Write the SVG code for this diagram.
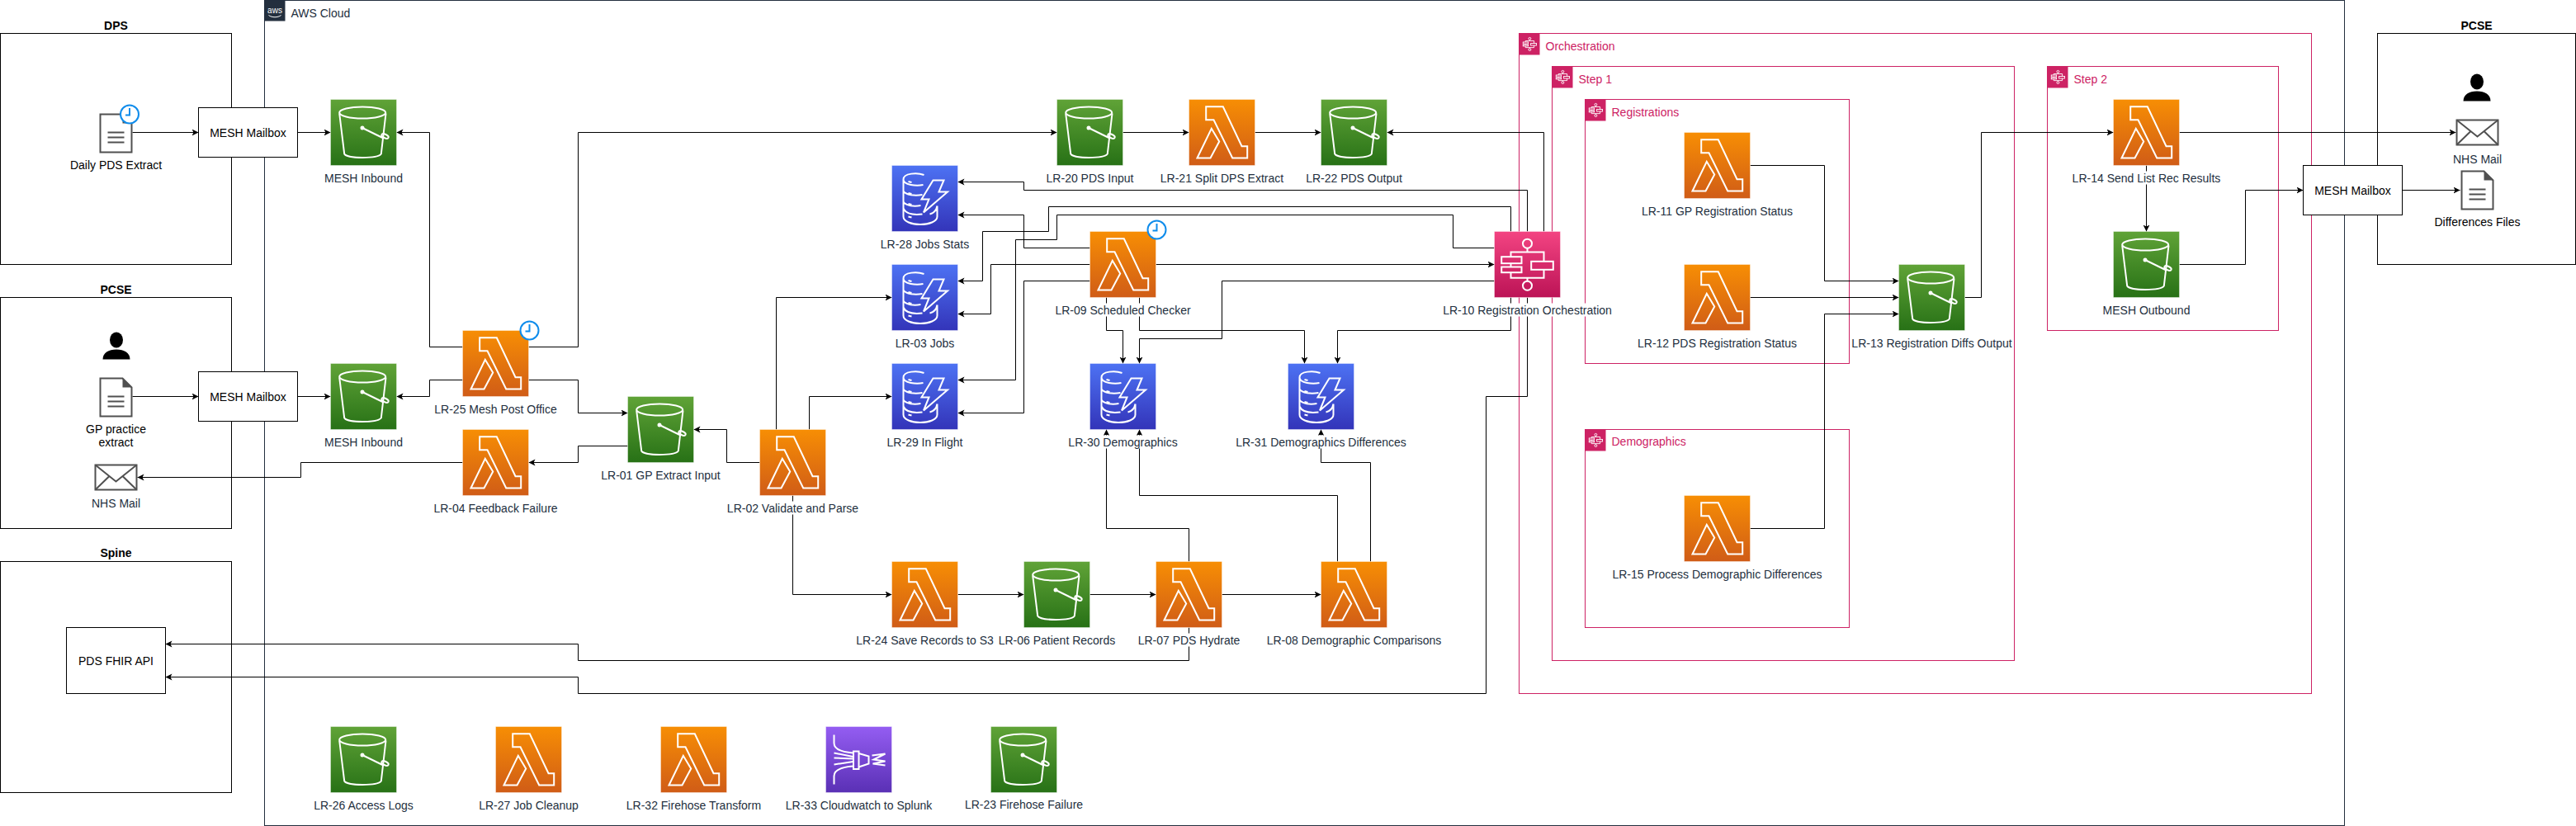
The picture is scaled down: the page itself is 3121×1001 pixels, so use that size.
<svg xmlns="http://www.w3.org/2000/svg" xmlns:xlink="http://www.w3.org/1999/xlink" width="3121" height="1001" viewBox="0 0 3121 1001">
<style>
text{font-family:"Liberation Sans",Arial,sans-serif;font-size:14px;fill:#000;text-anchor:middle}
.a{fill:#232F3E}
.b{font-weight:bold}
.g{fill:#CD2264;text-anchor:start}
.box{fill:none;stroke:#000;stroke-width:1}
.wbox{fill:#fff;stroke:#000;stroke-width:1}
.grp{fill:none;stroke:#CD2264;stroke-width:1}
.c{fill:none;stroke:#000;stroke-width:1;marker-end:url(#ah)}
.m{fill:#fff;stroke:none}
.w{fill:none;stroke:#fff;stroke-width:2}
.edge{stroke:#fff;stroke-opacity:.4;stroke-width:1}
.ink{fill:none;stroke:#505050;stroke-width:2}
.clk{fill:#fff;stroke:#0F8CEB;stroke-width:2}
.hand{fill:none;stroke:#0F8CEB;stroke-width:2}
</style>
<defs>
<marker id="ah" markerUnits="userSpaceOnUse" markerWidth="9" markerHeight="9" refX="8" refY="4" orient="auto"><path d="M8,4 L0,0 L2,4 L0,8 Z" fill="#000"/></marker>
<linearGradient id="gl" x1="0" y1="0" x2="0" y2="1"><stop offset="0" stop-color="#F78E04"/><stop offset="1" stop-color="#D05C17"/></linearGradient>
<linearGradient id="gs" x1="0" y1="0" x2="0" y2="1"><stop offset="0" stop-color="#60A337"/><stop offset="1" stop-color="#277116"/></linearGradient>
<linearGradient id="gd" x1="0" y1="0" x2="0" y2="1"><stop offset="0" stop-color="#4D72F3"/><stop offset="1" stop-color="#3334B9"/></linearGradient>
<linearGradient id="gf" x1="0" y1="0" x2="0" y2="1"><stop offset="0" stop-color="#F34482"/><stop offset="1" stop-color="#BC1356"/></linearGradient>
<linearGradient id="gk" x1="0" y1="0" x2="0" y2="1"><stop offset="0" stop-color="#945DF2"/><stop offset="1" stop-color="#5A30B5"/></linearGradient>
<g id="lambda"><rect width="80" height="80" fill="url(#gl)" class="edge"/><path class="w" d="M20.7,8.7H41.3L64,56.7H70.7V71H52.7L30,24.7H20.7Z M10,71L27.3,35.3L36.7,51L26,71Z"/></g>
<g id="s3"><rect width="80" height="80" fill="url(#gs)" class="edge"/><ellipse class="w" cx="38.7" cy="16" rx="28" ry="7"/><path class="w" d="M10.7,17L16.7,66C20,72 57,72 61.3,66L67,17"/><circle cx="38.5" cy="34.5" r="2.5" fill="#fff"/><path class="w" d="M38.5,34.5L63,46.5"/><ellipse class="w" cx="66" cy="44.5" rx="4.5" ry="2.2" transform="rotate(25 66 44.5)"/></g>
<g id="ddb"><rect width="80" height="80" fill="url(#gd)" class="edge"/><path class="w" d="M39,11.5C31,8.5 14,9 14,17C14,24 30,25 38,23.5M14,17V62C14,68 24,71.5 34.5,71.5S55,68 55,62V49M14,31C17,36 28,37 37,35.5M14,44C17,49 27,50 35,48.5M14,52C17,59 28,60 37,59M46,59C50,58 54,55 55,49M20,19.5L24,20.5M20,33.5L24,34.5M20,46.5L24,47.5M20,62L24,63"/><path class="w" d="M50,18H63L57,32H67.5L38.5,57L45,41H36Z"/></g>
<g id="sfg"><circle cx="40" cy="14.7" r="5.5"/><path d="M40,20V25M20,30.7V25H60V36.3M20,38.7V43M20,49.7V56.3H60V46.3M40,56.3V60.2"/><rect x="8.7" y="30.7" width="24.3" height="8"/><rect x="8.7" y="43" width="24.3" height="6.7"/><rect x="44.7" y="36.3" width="26.6" height="10"/><circle cx="40" cy="65.7" r="5.5"/></g>
<g id="sf"><rect width="80" height="80" fill="url(#gf)" class="edge"/><use xlink:href="#sfg" href="#sfg" class="w"/></g>
<g id="fh"><rect width="80" height="80" fill="url(#gk)" class="edge"/><path class="w" d="M10,10V20C10,28 20,31 33,32M10,70V60C10,52 20,49 33,48M10,32L33,36.5M10,38L33,39M10,46L33,42.5M40,32.5L52,36V45L40,49M56,35L72,33L58,40L72,42L57,45L72,47"/><rect class="w" x="33.5" y="30" width="6.5" height="21.5"/></g>
<g id="grpi"><rect width="25" height="26" fill="#CD2264"/><use xlink:href="#sfg" href="#sfg" transform="translate(2.5,2.5) scale(.26)" style="fill:none;stroke:#fff;stroke-width:3.5"/></g>
<g id="doc"><path d="M1,1H28L39,12V47H1Z" fill="#fff" class="ink"/><path d="M28,1L39,12H28Z" fill="#505050"/><path class="ink" d="M10,23H30M10,29H30M10,35H30"/></g>
<g id="mail"><rect x="1" y="1" width="50" height="30" fill="#fff" class="ink"/><path class="ink" d="M1,1L26,21L51,1M1,31L18,14.5M51,31L34,14.5"/></g>
<g id="person"><ellipse cx="16.5" cy="9.5" rx="8" ry="9.5" fill="#000"/><path d="M0,33C0,25 7,21 16.5,21S33,25 33,33Z" fill="#000"/></g>
<g id="clock"><circle r="11" class="clk"/><path class="hand" d="M0,-7.5V1H-5"/></g>
</defs>
<g transform="translate(.5,.5)">
<g id="aws-cloud"><rect x="320" y="0" width="2520" height="1000" class="box" style="stroke:#232F3E"/><rect x="320" y="0" width="25" height="25" fill="#232F3E"/><text x="332.5" y="15" style="fill:#fff;font-size:10px">aws</text><path d="M325,18C329,21 336,21 340,18" fill="none" stroke="#fff"/><text x="352" y="20" class="a" style="text-anchor:start">AWS Cloud</text></g>
<g id="dps"><rect y="40" width="280" height="280" class="box"/><text x="140" y="35" class="b">DPS</text></g>
<g id="pcse-left"><rect y="360" width="280" height="280" class="box"/><text x="140" y="355" class="b">PCSE</text></g>
<g id="spine"><rect y="680" width="280" height="280" class="box"/><text x="140" y="674" class="b">Spine</text></g>
<g id="pcse-right"><rect x="2880" y="40" width="240" height="280" class="box"/><text x="3000" y="35" class="b">PCSE</text></g>
<g id="orchestration"><rect x="1840" y="40" width="960" height="800" class="grp"/><use href="#grpi" x="1840" y="40"/><text x="1872" y="60" class="g">Orchestration</text></g>
<g id="step-1"><rect x="1880" y="80" width="560" height="720" class="grp"/><use href="#grpi" x="1880" y="80"/><text x="1912" y="100" class="g">Step 1</text></g>
<g id="registrations"><rect x="1920" y="120" width="320" height="320" class="grp"/><use href="#grpi" x="1920" y="120"/><text x="1952" y="140" class="g">Registrations</text></g>
<g id="demographics"><rect x="1920" y="520" width="320" height="240" class="grp"/><use href="#grpi" x="1920" y="520"/><text x="1952" y="539" class="g">Demographics</text></g>
<g id="step-2"><rect x="2480" y="80" width="280" height="320" class="grp"/><use href="#grpi" x="2480" y="80"/><text x="2512" y="100" class="g">Step 2</text></g>
<g id="connectors">
<path class="c" d="M160,160H240"/>
<path class="c" d="M360,160H400"/>
<path class="c" d="M560,420H520V160H480"/>
<path class="c" d="M640,420H700V160H1280"/>
<path class="c" d="M560,460H520V480H480"/>
<path class="c" d="M640,460H700V500H760"/>
<path class="c" d="M160,480H240"/>
<path class="c" d="M360,480H400"/>
<path class="c" d="M760,540H700V560H640"/>
<path class="c" d="M560,560H364V578H166"/>
<path class="c" d="M920,560H880V520H840"/>
<path class="c" d="M940,520V360H1080"/>
<path class="c" d="M980,520V480H1080"/>
<path class="c" d="M960,600V720H1080"/>
<path class="c" d="M1160,720H1240"/>
<path class="c" d="M1320,720H1400"/>
<path class="c" d="M1480,720H1600"/>
<path class="c" d="M1440,680V640H1340V520"/>
<path class="c" d="M1620,680V600H1380V520"/>
<path class="c" d="M1660,680V560H1600V520"/>
<path class="c" d="M1440,760V800H700V780H200"/>
<path class="c" d="M1850,360V480H1800V840H700V820H200"/>
<path class="c" d="M1850,280V230H1240V220H1160"/>
<path class="c" d="M1320,300H1240V260H1160"/>
<path class="c" d="M1830,280V250H1270V280H1190V340H1160"/>
<path class="c" d="M1810,300H1760V260H1280V290H1230V460H1160"/>
<path class="c" d="M1320,320H1200V380H1160"/>
<path class="c" d="M1320,340H1240V500H1160"/>
<path class="c" d="M1400,320H1810"/>
<path class="c" d="M1340,360V400H1360V440"/>
<path class="c" d="M1380,360V400H1580V440"/>
<path class="c" d="M1810,340H1480V410H1380V440"/>
<path class="c" d="M1830,360V400H1620V440"/>
<path class="c" d="M1870,280V160H1680"/>
<path class="c" d="M1360,160H1440"/>
<path class="c" d="M1520,160H1600"/>
<path class="c" d="M2120,200H2210V340H2300"/>
<path class="c" d="M2120,360H2300"/>
<path class="c" d="M2120,640H2210V380H2300"/>
<path class="c" d="M2380,360H2400V160H2560"/>
<path class="c" d="M2640,160H2975"/>
<path class="c" d="M2600,200V280"/>
<path class="c" d="M2640,320H2720V230H2790"/>
<path class="c" d="M2910,230H2980"/>
</g>
<g id="daily-pds-extract"><use href="#doc" x="120" y="137"/><use href="#clock" x="156.5" y="138"/><text x="140" y="204">Daily PDS Extract</text></g>
<g id="mesh-mailbox-dps"><rect x="240" y="130" width="120" height="60" class="wbox"/><text x="300" y="165">MESH Mailbox</text></g>
<g id="mesh-inbound-dps"><use href="#s3" x="400" y="120"/><text x="440" y="220" class="a">MESH Inbound</text></g>
<g id="pcse-user"><use href="#person" x="124" y="402"/></g>
<g id="gp-practice-extract"><use href="#doc" x="120" y="457"/><text x="140" y="524">GP practice</text><text x="140" y="540">extract</text></g>
<g id="nhs-mail-left"><use href="#mail" x="114" y="562"/><text x="140" y="614" class="a">NHS Mail</text></g>
<g id="mesh-mailbox-pcse"><rect x="240" y="450" width="120" height="60" class="wbox"/><text x="300" y="485">MESH Mailbox</text></g>
<g id="mesh-inbound-pcse"><use href="#s3" x="400" y="440"/><text x="440" y="540" class="a">MESH Inbound</text></g>
<g id="pds-fhir-api"><rect x="80" y="760" width="120" height="80" class="wbox"/><text x="140" y="805">PDS FHIR API</text></g>
<g id="lr-25"><use href="#lambda" x="560" y="400"/><use href="#clock" x="641" y="400"/><text x="600" y="500" class="a">LR-25 Mesh Post Office</text></g>
<g id="lr-04"><use href="#lambda" x="560" y="520"/><text x="600" y="620" class="a">LR-04 Feedback Failure</text></g>
<g id="lr-01"><use href="#s3" x="760" y="480"/><text x="800" y="580" class="a">LR-01 GP Extract Input</text></g>
<g id="lr-02"><use href="#lambda" x="920" y="520"/><rect class="m" x="881" y="607" width="159" height="16"/><text x="960" y="620" class="a">LR-02 Validate and Parse</text></g>
<g id="lr-28"><use href="#ddb" x="1080" y="200"/><text x="1120" y="300" class="a">LR-28 Jobs Stats</text></g>
<g id="lr-03"><use href="#ddb" x="1080" y="320"/><text x="1120" y="420" class="a">LR-03 Jobs</text></g>
<g id="lr-29"><use href="#ddb" x="1080" y="440"/><text x="1120" y="540" class="a">LR-29 In Flight</text></g>
<g id="lr-09"><use href="#lambda" x="1320" y="280"/><use href="#clock" x="1401" y="278"/><rect class="m" x="1279" y="367" width="164" height="16"/><text x="1360" y="380" class="a">LR-09 Scheduled Checker</text></g>
<g id="lr-30"><use href="#ddb" x="1320" y="440"/><rect class="m" x="1294" y="527" width="132" height="16"/><text x="1360" y="540" class="a">LR-30 Demographics</text></g>
<g id="lr-31"><use href="#ddb" x="1560" y="440"/><rect class="m" x="1497" y="527" width="206" height="16"/><text x="1600" y="540" class="a">LR-31 Demographics Differences</text></g>
<g id="lr-20"><use href="#s3" x="1280" y="120"/><text x="1320" y="220" class="a">LR-20 PDS Input</text></g>
<g id="lr-21"><use href="#lambda" x="1440" y="120"/><text x="1480" y="220" class="a">LR-21 Split DPS Extract</text></g>
<g id="lr-22"><use href="#s3" x="1600" y="120"/><text x="1640" y="220" class="a">LR-22 PDS Output</text></g>
<g id="lr-10"><use href="#sf" x="1810" y="280"/><rect class="m" x="1748" y="367" width="204" height="16"/><text x="1850" y="380" class="a">LR-10 Registration Orchestration</text></g>
<g id="lr-24"><use href="#lambda" x="1080" y="680"/><text x="1120" y="780" class="a">LR-24 Save Records to S3</text></g>
<g id="lr-06"><use href="#s3" x="1240" y="680"/><text x="1280" y="780" class="a">LR-06 Patient Records</text></g>
<g id="lr-07"><use href="#lambda" x="1400" y="680"/><rect class="m" x="1379" y="767" width="123" height="16"/><text x="1440" y="780" class="a">LR-07 PDS Hydrate</text></g>
<g id="lr-08"><use href="#lambda" x="1600" y="680"/><text x="1640" y="780" class="a">LR-08 Demographic Comparisons</text></g>
<g id="lr-26"><use href="#s3" x="400" y="880"/><text x="440" y="980" class="a">LR-26 Access Logs</text></g>
<g id="lr-27"><use href="#lambda" x="600" y="880"/><text x="640" y="980" class="a">LR-27 Job Cleanup</text></g>
<g id="lr-32"><use href="#lambda" x="800" y="880"/><text x="840" y="980" class="a">LR-32 Firehose Transform</text></g>
<g id="lr-33"><use href="#fh" x="1000" y="880"/><text x="1040" y="980" class="a">LR-33 Cloudwatch to Splunk</text></g>
<g id="lr-23"><use href="#s3" x="1200" y="880"/><text x="1240" y="979" class="a">LR-23 Firehose Failure</text></g>
<g id="lr-11"><use href="#lambda" x="2040" y="160"/><text x="2080" y="260" class="a">LR-11 GP Registration Status</text></g>
<g id="lr-12"><use href="#lambda" x="2040" y="320"/><text x="2080" y="420" class="a">LR-12 PDS Registration Status</text></g>
<g id="lr-13"><use href="#s3" x="2300" y="320"/><text x="2340" y="420" class="a">LR-13 Registration Diffs Output</text></g>
<g id="lr-15"><use href="#lambda" x="2040" y="600"/><text x="2080" y="700" class="a">LR-15 Process Demographic Differences</text></g>
<g id="lr-14"><use href="#lambda" x="2560" y="120"/><rect class="m" x="2511" y="207" width="179" height="16"/><text x="2600" y="220" class="a">LR-14 Send List Rec Results</text></g>
<g id="mesh-outbound"><use href="#s3" x="2560" y="280"/><text x="2600" y="380" class="a">MESH Outbound</text></g>
<g id="mesh-mailbox-out"><rect x="2790" y="200" width="120" height="60" class="wbox"/><text x="2850" y="235">MESH Mailbox</text></g>
<g id="pcse-user-right"><use href="#person" x="2984" y="89"/></g>
<g id="nhs-mail-right"><use href="#mail" x="2975" y="144"/><text x="3001" y="197" class="a">NHS Mail</text></g>
<g id="differences-files"><use href="#doc" x="2981" y="206"/><text x="3001" y="273">Differences Files</text></g>
</g>
</svg>
